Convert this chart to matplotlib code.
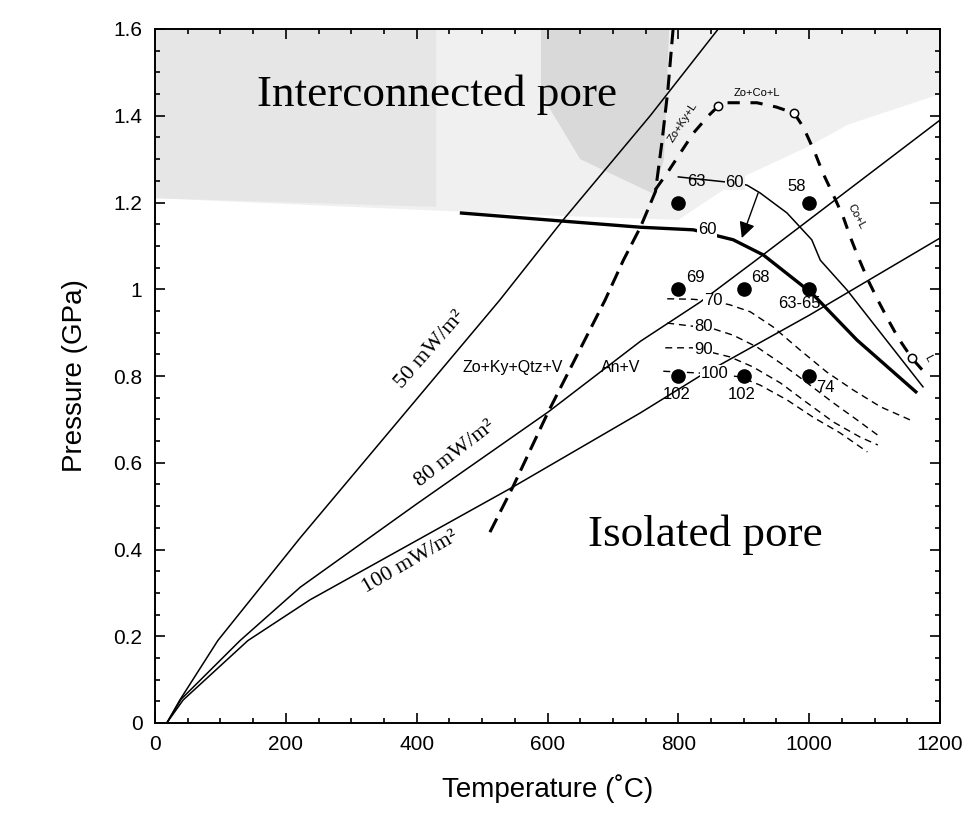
import matplotlib
matplotlib.use("Agg")
import matplotlib.pyplot as plt
from matplotlib.ticker import MultipleLocator

# ---------------- data ----------------
geo50_T = [18, 38, 96, 222, 527, 624, 757, 861]
geo50_P = [0, 0.053, 0.19, 0.427, 0.975, 1.16, 1.40, 1.6]
geo80_T = [18, 40, 130, 222, 400, 601, 742, 833, 917, 1200]
geo80_P = [0, 0.055, 0.19, 0.313, 0.505, 0.717, 0.88, 0.97, 1.065, 1.39]
geo100_T = [18, 43, 142, 237, 547, 742, 833, 1000, 1200]
geo100_P = [0, 0.053, 0.19, 0.284, 0.544, 0.715, 0.80, 0.94, 1.118]

rxn_T = [512, 547, 601, 688, 716, 742, 765, 775, 784, 792]
rxn_P = [0.44, 0.544, 0.717, 0.975, 1.067, 1.143, 1.225, 1.34, 1.459, 1.6]

melt_T = [765, 783, 803, 823, 846, 861, 875, 920, 950, 977, 991, 1009, 1021,
          1037, 1052, 1063, 1075, 1090, 1105, 1121, 1136, 1157, 1177]
melt_P = [1.23, 1.268, 1.314, 1.36, 1.40, 1.422, 1.43, 1.43, 1.42, 1.406, 1.374,
          1.314, 1.268, 1.217, 1.167, 1.12, 1.074, 1.021, 0.975, 0.929, 0.888,
          0.841, 0.807]
circ_T = [861, 977, 1157]
circ_P = [1.422, 1.406, 0.841]

thick60_T = [466, 624, 742, 823, 868, 884, 930, 1004, 1073, 1165]
thick60_P = [1.176, 1.157, 1.143, 1.137, 1.12, 1.114, 1.079, 0.991, 0.883, 0.761]
upper60_T = [800, 887, 905, 925, 966, 1004, 1017, 1058, 1174]
upper60_P = [1.259, 1.245, 1.24, 1.222, 1.176, 1.114, 1.067, 0.998, 0.775]

i70_T = [783, 821, 853, 879, 910, 945, 986, 1027, 1067, 1109, 1154]
i70_P = [0.978, 0.977, 0.973, 0.964, 0.948, 0.913, 0.86, 0.809, 0.768, 0.729, 0.699]
i80_T = [783, 821, 849, 884, 920, 956, 997, 1037, 1073, 1109]
i80_P = [0.922, 0.915, 0.911, 0.894, 0.867, 0.83, 0.784, 0.738, 0.699, 0.659]
i90_T = [780, 821, 849, 879, 914, 956, 997, 1037, 1078, 1105]
i90_P = [0.865, 0.865, 0.855, 0.844, 0.821, 0.784, 0.738, 0.694, 0.659, 0.641]
i100_T = [777, 856, 894, 925, 966, 1006, 1047, 1089]
i100_P = [0.811, 0.805, 0.798, 0.779, 0.745, 0.705, 0.669, 0.625]

dot_T = [800, 800, 800, 900, 900, 1000, 1000, 1000]
dot_P = [1.2, 1.0, 0.8, 1.0, 0.8, 1.2, 1.0, 0.8]
dot_labels = ['63', '69', '102', '68', '102', '58', '63-65', '74']

x_ticks = [0, 200, 400, 600, 800, 1000, 1200]
y_ticks = [0, 0.2, 0.4, 0.6, 0.8, 1.0, 1.2, 1.4, 1.6]
y_ticklabels = ['0', '0.2', '0.4', '0.6', '0.8', '1', '1.2', '1.4', '1.6']

# ---------------- figure ----------------
SANS = ['Liberation Sans', 'DejaVu Sans']
SERIF = ['Liberation Serif', 'DejaVu Serif']
plt.rcParams['font.family'] = SANS

fig = plt.figure(figsize=(9.65, 8.34), dpi=100)
ax = fig.add_axes([155 / 965, 1 - 723 / 834, 785 / 965, 694 / 834])
ax.set_xlim(0, 1200)
ax.set_ylim(0, 1.6)

# shaded "interconnected pore" region (halftone in original)
ax.fill([0, 1200, 1200, 1060, 1000, 900, 800, 600, 450, 0],
        [1.6, 1.6, 1.45, 1.38, 1.33, 1.26, 1.16, 1.17, 1.18, 1.21],
        color='#f0f0f0', lw=0, zorder=0)
ax.fill([0, 430, 430, 0], [1.6, 1.6, 1.19, 1.21], color='#e6e6e6', lw=0, zorder=0)
ax.fill([590, 786, 778, 762, 650, 590], [1.6, 1.6, 1.30, 1.22, 1.30, 1.45],
        color='#d9d9d9', lw=0, zorder=0)

lw_thin = 1.1
ax.plot(geo50_T, geo50_P, color='black', lw=lw_thin, zorder=2)
ax.plot(geo80_T, geo80_P, color='black', lw=lw_thin, zorder=2)
ax.plot(geo100_T, geo100_P, color='black', lw=lw_thin, zorder=2)

ax.plot(rxn_T, rxn_P, color='black', lw=2.2, dashes=(5, 2.5), zorder=2)
ax.plot(melt_T, melt_P, color='black', lw=2.2, dashes=(4, 3.5), zorder=2)
ax.plot(circ_T, circ_P, 'o', ms=6, mfc='white', mec='black', mew=1.1, zorder=4)

ax.plot(thick60_T, thick60_P, color='black', lw=2.4, zorder=3,
        solid_capstyle='butt')
ax.plot(upper60_T, upper60_P, color='black', lw=lw_thin, zorder=3)

for T, P in [(i70_T, i70_P), (i80_T, i80_P), (i90_T, i90_P), (i100_T, i100_P)]:
    ax.plot(T, P, color='black', lw=1.0, dashes=(5, 3.5), zorder=2)

ax.plot(dot_T, dot_P, 'o', ms=9.5, color='black', zorder=5)

# isoline labels
box_w = dict(facecolor='white', edgecolor='none', pad=0.5)
ax.text(844, 1.137, '60', fontsize=12, ha='center', va='center', zorder=4,
        bbox=box_w)
ax.text(886, 1.247, '60', fontsize=12, ha='center', va='center', zorder=4,
        bbox=dict(facecolor='#f0f0f0', edgecolor='none', pad=0.5))
ax.text(853, 0.973, '70', fontsize=12, ha='center', va='center', zorder=4, bbox=box_w)
ax.text(838, 0.913, '80', fontsize=12, ha='center', va='center', zorder=4, bbox=box_w)
ax.text(838, 0.862, '90', fontsize=12, ha='center', va='center', zorder=4, bbox=box_w)
ax.text(856, 0.806, '100', fontsize=12, ha='center', va='center', zorder=4, bbox=box_w)

# dot labels
lab_off = {'63': (14, 0.03, 'left', 'bottom'),
           '69': (12, 0.01, 'left', 'bottom'),
           '68': (12, 0.01, 'left', 'bottom'),
           '58': (-5, 0.02, 'right', 'bottom'),
           '63-65': (-15, -0.015, 'center', 'top'),
           '74': (10, -0.01, 'left', 'top')}
for T, P, s in zip(dot_T, dot_P, dot_labels):
    if s == '102':
        ax.text(T - 3, P - 0.025, s, fontsize=12, ha='center', va='top', zorder=5)
    else:
        dx, dy, ha, va = lab_off[s]
        ax.text(T + dx, P + dy, s, fontsize=12, ha=ha, va=va, zorder=5)

# arrow between the 60 curves
ax.annotate('', xy=(897, 1.118), xytext=(922, 1.222),
            arrowprops=dict(arrowstyle='-|>', color='black', lw=1.0,
                            mutation_scale=24, shrinkA=0, shrinkB=0), zorder=5)

# phase labels
ax.text(547, 0.82, 'Zo+Ky+Qtz+V', fontsize=11.5, ha='center', va='center')
ax.text(712, 0.82, 'An+V', fontsize=11.5, ha='center', va='center')
ax.text(807, 1.385, 'Zo+Ky+L', fontsize=8, ha='center', va='center', rotation=57)
ax.text(920, 1.452, 'Zo+Co+L', fontsize=8, ha='center', va='center')
ax.text(1072, 1.167, 'Co+L', fontsize=8, ha='center', va='center', rotation=-62)
ax.text(1182, 0.84, 'L', fontsize=8, ha='center', va='center', rotation=-62)

# geotherm labels
ax.text(420, 0.86, '50 mW/m²', family=SERIF, fontsize=16, ha='center', va='center',
        rotation=49, rotation_mode='anchor')
ax.text(458, 0.62, '80 mW/m²', family=SERIF, fontsize=16, ha='center', va='center',
        rotation=38, rotation_mode='anchor')
ax.text(390, 0.37, '100 mW/m²', family=SERIF, fontsize=16, ha='center', va='center',
        rotation=30, rotation_mode='anchor')

# region labels
ax.text(431, 1.448, 'Interconnected pore', family=SERIF, fontsize=32.5,
        ha='center', va='center')
ax.text(842, 0.433, 'Isolated pore', family=SERIF, fontsize=32.5,
        ha='center', va='center')

# axes styling
ax.set_xticks(x_ticks)
ax.set_yticks(y_ticks)
ax.set_yticklabels(y_ticklabels)
ax.xaxis.set_minor_locator(MultipleLocator(50))
ax.yaxis.set_minor_locator(MultipleLocator(0.05))
ax.tick_params(which='both', direction='in', top=True, right=True, width=1.2,
               labelsize=15)
ax.tick_params(which='major', length=7, pad=9)
ax.tick_params(which='minor', length=3.5)
for sp in ax.spines.values():
    sp.set_linewidth(1.4)

ax.set_xlabel('Temperature (˚C)', fontsize=20, labelpad=14)
ax.set_ylabel('Pressure (GPa)', fontsize=20, labelpad=18)

fig.savefig('out.png', dpi=100)
